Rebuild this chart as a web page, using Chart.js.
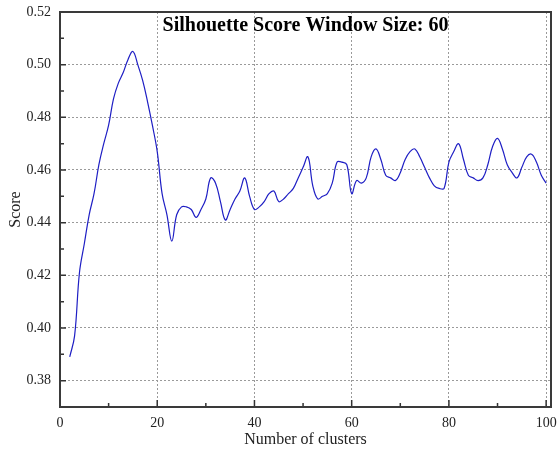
<!DOCTYPE html>
<html>
<head>
<meta charset="utf-8">
<script src="https://cdn.jsdelivr.net/npm/chart.js@4/dist/chart.umd.min.js"></script>
<style>
  html, body { margin: 0; padding: 0; background: #fff; }
  #wrap { width: 557px; height: 449px; }
</style>
</head>
<body>
<div id="wrap"><canvas id="c" width="557" height="449"></canvas></div>
<script>
// Number of clusters evaluated
const clusters = [];
for (let k = 2; k <= 100; k++) clusters.push(k);

// Silhouette score for each cluster count (window size 60)
const scores = [
  0.389, 0.397, 0.421, 0.432, 0.443, 0.451, 0.462, 0.470, 0.477, 0.487,   // 2-11
  0.493, 0.497, 0.502, 0.505, 0.500, 0.494, 0.486, 0.477, 0.467, 0.451,   // 12-21
  0.443, 0.433, 0.443, 0.446, 0.446, 0.445, 0.442, 0.445, 0.449, 0.457,   // 22-31
  0.455, 0.448, 0.441, 0.445, 0.449, 0.452, 0.457, 0.450, 0.445, 0.446,   // 32-41
  0.448, 0.451, 0.452, 0.448, 0.449, 0.451, 0.453, 0.457, 0.461, 0.465,   // 42-51
  0.454, 0.449, 0.450, 0.451, 0.455, 0.463, 0.463, 0.462, 0.451, 0.456,   // 52-61
  0.455, 0.457, 0.465, 0.468, 0.464, 0.458, 0.457, 0.456, 0.459, 0.464,   // 62-71
  0.467, 0.468, 0.465, 0.461, 0.457, 0.454, 0.453, 0.453, 0.463, 0.467,   // 72-81
  0.470, 0.464, 0.458, 0.457, 0.456, 0.457, 0.462, 0.469, 0.472, 0.468,   // 82-91
  0.462, 0.459, 0.457, 0.461, 0.465, 0.466, 0.463, 0.458, 0.455          // 92-100
];

// Axis tick positions
const xTicks = [0, 20, 40, 60, 80, 100];
const xMinorTicks = [10, 30, 50, 70, 90];
const yTicks = [0.38, 0.40, 0.42, 0.44, 0.46, 0.48, 0.50, 0.52];
const yMinorTicks = [0.39, 0.41, 0.43, 0.45, 0.47, 0.49, 0.51];

const chartTitle = 'Silhouette Score Window Size: 60';
const serif = '"Liberation Serif", "Times New Roman", serif';

// Frame, inward tick marks and the title drawn inside the plot area
const framePlugin = {
  id: 'frame',
  afterDraw(chart) {
    const { ctx, chartArea: a, scales } = chart;
    const xs = scales.x, ys = scales.y;
    ctx.save();
    ctx.strokeStyle = '#333';
    ctx.lineWidth = 1.5;
    ctx.beginPath();
    xTicks.forEach(v => { const p = xs.getPixelForValue(v); ctx.moveTo(p, a.bottom); ctx.lineTo(p, a.bottom - 7); });
    xMinorTicks.forEach(v => { const p = xs.getPixelForValue(v); ctx.moveTo(p, a.bottom); ctx.lineTo(p, a.bottom - 4); });
    yTicks.forEach(v => { const p = ys.getPixelForValue(v); ctx.moveTo(a.left, p); ctx.lineTo(a.left + 6, p); });
    yMinorTicks.forEach(v => { const p = ys.getPixelForValue(v); ctx.moveTo(a.left, p); ctx.lineTo(a.left + 4, p); });
    ctx.stroke();
    ctx.lineWidth = 2;
    ctx.strokeStyle = '#3a3a3a';
    ctx.strokeRect(a.left, a.top, a.right - a.left, a.bottom - a.top);
    ctx.fillStyle = '#000';
    ctx.font = 'bold 20px ' + serif;
    ctx.textAlign = 'center';
    ctx.textBaseline = 'alphabetic';
    ctx.fillText(chartTitle, (a.left + a.right) / 2, a.top + 19);
    ctx.restore();
  }
};

new Chart(document.getElementById('c'), {
  type: 'line',
  data: {
    labels: clusters,
    datasets: [{
      data: clusters.map((k, i) => ({ x: k, y: scores[i] })),
      borderColor: '#1e1ec4',
      borderWidth: 1.2,
      pointRadius: 0,
      fill: false,
      tension: 0.4
    }]
  },
  options: {
    responsive: false,
    animation: false,
    layout: { padding: { top: 12, right: 6, left: 0, bottom: 0 } },
    plugins: { legend: { display: false }, tooltip: { enabled: false } },
    scales: {
      x: {
        type: 'linear',
        min: 0,
        max: 101,
        afterBuildTicks: s => { s.ticks = xTicks.map(v => ({ value: v })); },
        afterFit: s => { s.height = 42; s.paddingLeft = 0; s.paddingRight = 0; },
        grid: { color: '#9a9a9a', drawTicks: false, lineWidth: 1 },
        border: { display: false, dash: [2, 2] },
        ticks: { color: '#222', font: { family: serif, size: 14 }, padding: 8, maxRotation: 0 },
        title: { display: true, text: 'Number of clusters', color: '#222', font: { family: serif, size: 16 }, padding: { top: 0, bottom: 0 } }
      },
      y: {
        min: 0.37,
        max: 0.52,
        afterBuildTicks: s => { s.ticks = yTicks.map(v => ({ value: v })); },
        afterFit: s => { s.width = 60; s.paddingTop = 0; s.paddingBottom = 0; },
        grid: { color: '#9a9a9a', drawTicks: false, lineWidth: 1 },
        border: { display: false, dash: [2, 2] },
        ticks: { color: '#222', font: { family: serif, size: 14 }, padding: 9, callback: v => v.toFixed(2) },
        title: { display: true, text: 'Score', color: '#222', font: { family: serif, size: 16 }, padding: { top: 6, bottom: 2 } }
      }
    }
  },
  plugins: [framePlugin]
});
</script>
</body>
</html>
